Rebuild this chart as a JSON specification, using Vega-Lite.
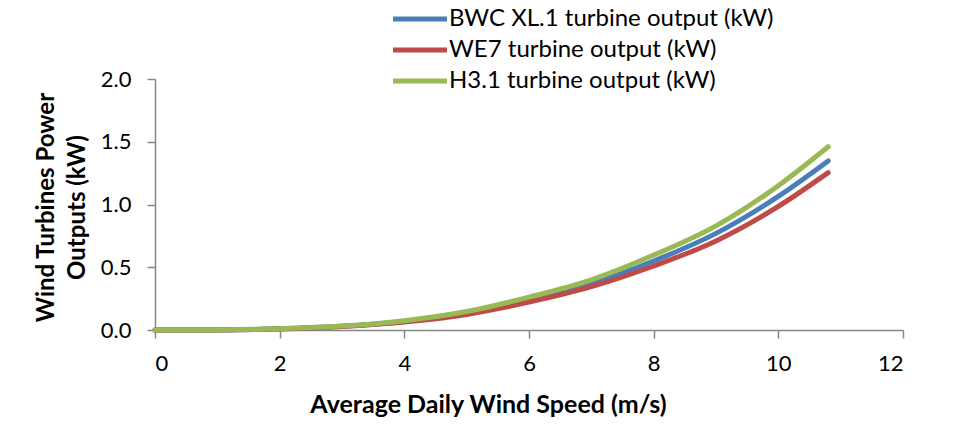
{
  "$schema": "https://vega.github.io/schema/vega-lite/v6.json",
  "width": 748,
  "height": 251,
  "autosize": {"type": "none"},
  "padding": {"left": 155, "top": 79, "right": 71, "bottom": 100},
  "background": "white",
  "config": {
    "view": {"stroke": null},
    "font": "Lato",
    "axis": {"grid": false, "domainColor": "#868686", "tickColor": "#868686", "domainWidth": 1.5, "tickWidth": 1.5, "tickSize": 8,
             "labelFont": "Lato", "labelFontSize": 22, "labelColor": "#000000",
             "titleFont": "Lato", "titleFontSize": 25, "titleFontWeight": "bold", "titleColor": "#000000"}
  },
  "data": {"values": [
    {"speed": 0, "power": 0, "series": "BWC XL.1 turbine output (kW)"},
    {"speed": 1, "power": 0.001, "series": "BWC XL.1 turbine output (kW)"},
    {"speed": 2, "power": 0.009, "series": "BWC XL.1 turbine output (kW)"},
    {"speed": 3, "power": 0.029, "series": "BWC XL.1 turbine output (kW)"},
    {"speed": 4, "power": 0.068, "series": "BWC XL.1 turbine output (kW)"},
    {"speed": 5, "power": 0.134, "series": "BWC XL.1 turbine output (kW)"},
    {"speed": 6, "power": 0.24, "series": "BWC XL.1 turbine output (kW)"},
    {"speed": 7, "power": 0.37, "series": "BWC XL.1 turbine output (kW)"},
    {"speed": 8, "power": 0.55, "series": "BWC XL.1 turbine output (kW)"},
    {"speed": 9, "power": 0.77, "series": "BWC XL.1 turbine output (kW)"},
    {"speed": 10, "power": 1.065, "series": "BWC XL.1 turbine output (kW)"},
    {"speed": 10.8, "power": 1.347, "series": "BWC XL.1 turbine output (kW)"},
    {"speed": 0, "power": 0, "series": "WE7 turbine output (kW)"},
    {"speed": 1, "power": 0.001, "series": "WE7 turbine output (kW)"},
    {"speed": 2, "power": 0.008, "series": "WE7 turbine output (kW)"},
    {"speed": 3, "power": 0.027, "series": "WE7 turbine output (kW)"},
    {"speed": 4, "power": 0.063, "series": "WE7 turbine output (kW)"},
    {"speed": 5, "power": 0.124, "series": "WE7 turbine output (kW)"},
    {"speed": 6, "power": 0.222, "series": "WE7 turbine output (kW)"},
    {"speed": 7, "power": 0.345, "series": "WE7 turbine output (kW)"},
    {"speed": 8, "power": 0.51, "series": "WE7 turbine output (kW)"},
    {"speed": 9, "power": 0.71, "series": "WE7 turbine output (kW)"},
    {"speed": 10, "power": 0.985, "series": "WE7 turbine output (kW)"},
    {"speed": 10.8, "power": 1.254, "series": "WE7 turbine output (kW)"},
    {"speed": 0, "power": 0, "series": "H3.1 turbine output (kW)"},
    {"speed": 1, "power": 0.001, "series": "H3.1 turbine output (kW)"},
    {"speed": 2, "power": 0.01, "series": "H3.1 turbine output (kW)"},
    {"speed": 3, "power": 0.031, "series": "H3.1 turbine output (kW)"},
    {"speed": 4, "power": 0.074, "series": "H3.1 turbine output (kW)"},
    {"speed": 5, "power": 0.147, "series": "H3.1 turbine output (kW)"},
    {"speed": 6, "power": 0.262, "series": "H3.1 turbine output (kW)"},
    {"speed": 7, "power": 0.40, "series": "H3.1 turbine output (kW)"},
    {"speed": 8, "power": 0.597, "series": "H3.1 turbine output (kW)"},
    {"speed": 9, "power": 0.83, "series": "H3.1 turbine output (kW)"},
    {"speed": 10, "power": 1.15, "series": "H3.1 turbine output (kW)"},
    {"speed": 10.8, "power": 1.46, "series": "H3.1 turbine output (kW)"}
  ]},
  "mark": {"type": "line", "strokeWidth": 5, "strokeCap": "round", "strokeJoin": "round", "interpolate": "monotone"},
  "encoding": {
    "x": {"field": "speed", "type": "quantitative",
          "scale": {"domain": [0, 12], "nice": false, "zero": true},
          "axis": {"values": [0, 2, 4, 6, 8, 10, 12], "title": "Average Daily Wind Speed (m/s)", "labelPadding": 15,
                   "titleX": 333, "titleY": 82, "titleBaseline": "alphabetic", "titleAnchor": null, "titleAlign": "center"}},
    "y": {"field": "power", "type": "quantitative",
          "scale": {"domain": [0, 2], "nice": false},
          "axis": {"values": [0, 0.5, 1, 1.5, 2], "format": ".1f", "labelPadding": 16,
                   "title": ["Wind Turbines Power", "Outputs (kW)"], "titleX": -102, "titleY": 128, "titleAngle": -90,
                   "titleFontSize": 24, "titleBaseline": "alphabetic", "titleAlign": "center", "titleLineHeight": 31}},
    "color": {"field": "series", "type": "nominal",
              "scale": {"domain": ["BWC XL.1 turbine output (kW)", "WE7 turbine output (kW)", "H3.1 turbine output (kW)"],
                        "range": ["#4a7ebb", "#be4b48", "#98b954"]},
              "legend": {"title": null, "orient": "none", "legendX": 253, "legendY": -72, "padding": 0,
                         "symbolType": "M-5.4,0H5.4", "symbolSize": 100, "symbolStrokeWidth": 5, "symbolFillColor": "transparent",
                         "labelFont": "Lato", "labelFontSize": 24, "labelColor": "#000000", "labelOffset": 17,
                         "rowPadding": 7, "labelLimit": 500}}
  }
}
